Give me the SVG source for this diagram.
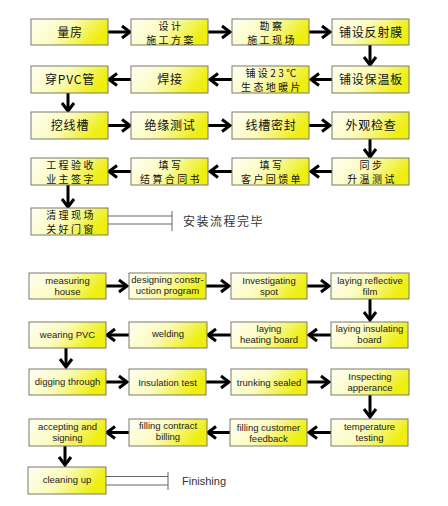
<svg xmlns="http://www.w3.org/2000/svg" width="448" height="506" viewBox="0 0 448 506">
<style>
.bx{fill:url(#g);stroke:#7a7a6a;stroke-width:1}
.zh{font-family:"Noto Sans CJK SC","Noto Sans",sans-serif;font-size:12px;fill:#111;text-anchor:middle;letter-spacing:0.8px}
.z2{font-family:"Noto Sans CJK SC","Noto Sans",sans-serif;font-size:10px;fill:#111;text-anchor:middle;letter-spacing:2.4px}
.en{font-family:"Liberation Sans","DejaVu Sans",sans-serif;font-size:9.5px;fill:#222;text-anchor:middle}
.ar{fill:none;stroke:#000;stroke-width:3;marker-end:url(#ah)}
.dl{fill:none;stroke:#666;stroke-width:1}
.end{font-family:"Noto Sans CJK SC","Noto Sans",sans-serif;font-size:12px;fill:#333;letter-spacing:1.5px}
.endE{font-family:"Liberation Sans","DejaVu Sans",sans-serif;font-size:11px;fill:#333}
</style>
<defs>
<linearGradient id="g" x1="0" y1="0" x2="1" y2="0.3">
<stop offset="0" stop-color="#fffff4"/>
<stop offset="0.5" stop-color="#fbfbbf"/>
<stop offset="1" stop-color="#eeee10"/>
</linearGradient>
<marker id="ah" markerUnits="userSpaceOnUse" markerWidth="14" markerHeight="16" refX="10" refY="8" orient="auto">
<path d="M2,2 L10,8 L2,14" fill="none" stroke="#000" stroke-width="3"/>
</marker>
</defs>
<rect width="448" height="506" fill="#fff"/>

<g id="connectors">
<path class="ar" d="M108,32 H130"/>
<path class="ar" d="M208,32 H230"/>
<path class="ar" d="M309,32 H330"/>
<path class="ar" d="M370,45 V65"/>
<path class="ar" d="M332,79.5 H311"/>
<path class="ar" d="M232,79.5 H210"/>
<path class="ar" d="M131,79.5 H109"/>
<path class="ar" d="M68,93 V111"/>
<path class="ar" d="M108,125.5 H130"/>
<path class="ar" d="M208,125.5 H230"/>
<path class="ar" d="M309,125.5 H330"/>
<path class="ar" d="M370,139 V157"/>
<path class="ar" d="M332,171.5 H311"/>
<path class="ar" d="M232,171.5 H210"/>
<path class="ar" d="M131,171.5 H109"/>
<path class="ar" d="M68,185 V207"/>
<path class="dl" d="M108,216 H172 M108,224 H172 M172,211 V231"/>
<path class="ar" d="M106,286 H127"/>
<path class="ar" d="M206,286 H229"/>
<path class="ar" d="M307,286 H329"/>
<path class="ar" d="M370,299 V320"/>
<path class="ar" d="M331,335 H309"/>
<path class="ar" d="M231,335 H208"/>
<path class="ar" d="M129,335 H107"/>
<path class="ar" d="M66,348 V367"/>
<path class="ar" d="M106,382 H127"/>
<path class="ar" d="M206,382 H229"/>
<path class="ar" d="M307,382 H329"/>
<path class="ar" d="M370,395 V417"/>
<path class="ar" d="M331,432.5 H309"/>
<path class="ar" d="M231,432.5 H208"/>
<path class="ar" d="M129,432.5 H107"/>
<path class="ar" d="M65,446 V465"/>
<path class="dl" d="M106,476.5 H168 M106,485 H168 M168,472 V490"/>
</g>

<g id="n-liangfang"><rect class="bx" x="31" y="19" width="77" height="26"/><text class="zh" x="70" y="36.5">量房</text></g>
<g id="n-sheji"><rect class="bx" x="131" y="19" width="77" height="26"/><text class="z2" x="171" y="29.5">设计<tspan x="171" dy="14.5">施工方案</tspan></text></g>
<g id="n-kancha"><rect class="bx" x="232" y="19" width="77" height="26"/><text class="z2" x="272" y="29.5">勘察<tspan x="272" dy="14.5">施工现场</tspan></text></g>
<g id="n-fanshemo"><rect class="bx" x="332" y="19" width="77" height="26"/><text class="zh" x="371" y="36.5">铺设反射膜</text></g>
<g id="n-pvc"><rect class="bx" x="31" y="66" width="77" height="27"/><text class="zh" x="70" y="84">穿PVC管</text></g>
<g id="n-hanjie"><rect class="bx" x="131" y="66" width="77" height="27"/><text class="zh" x="170" y="84">焊接</text></g>
<g id="n-nuanpian"><rect class="bx" x="232" y="66" width="77" height="27"/><text class="z2" x="272" y="76.5">铺设23℃<tspan x="272" dy="14.5">生态地暖片</tspan></text></g>
<g id="n-baowenban"><rect class="bx" x="332" y="66" width="77" height="27"/><text class="zh" x="371" y="84">铺设保温板</text></g>
<g id="n-waxiancao"><rect class="bx" x="31" y="112" width="77" height="27"/><text class="zh" x="70" y="130">挖线槽</text></g>
<g id="n-jueyuan"><rect class="bx" x="131" y="112" width="77" height="27"/><text class="zh" x="170" y="130">绝缘测试</text></g>
<g id="n-mifeng"><rect class="bx" x="232" y="112" width="77" height="27"/><text class="zh" x="271" y="130">线槽密封</text></g>
<g id="n-waiguan"><rect class="bx" x="332" y="112" width="77" height="27"/><text class="zh" x="371" y="130">外观检查</text></g>
<g id="n-yanshou"><rect class="bx" x="31" y="158" width="77" height="27"/><text class="z2" x="71" y="168.5">工程验收<tspan x="71" dy="14.5">业主签字</tspan></text></g>
<g id="n-jiesuan"><rect class="bx" x="131" y="158" width="77" height="27"/><text class="z2" x="171" y="168.5">填写<tspan x="171" dy="14.5">结算合同书</tspan></text></g>
<g id="n-huikui"><rect class="bx" x="232" y="158" width="77" height="27"/><text class="z2" x="272" y="168.5">填写<tspan x="272" dy="14.5">客户回馈单</tspan></text></g>
<g id="n-shengwen"><rect class="bx" x="332" y="158" width="77" height="27"/><text class="z2" x="372" y="168.5">同步<tspan x="372" dy="14.5">升温测试</tspan></text></g>
<g id="n-qingli"><rect class="bx" x="31" y="208" width="77" height="27"/><text class="z2" x="71" y="218.5">清理现场<tspan x="71" dy="14.5">关好门窗</tspan></text></g>
<g id="n-wanbi"><text class="end" x="183" y="225.5">安装流程完毕</text></g>

<g id="e-measuring"><rect class="bx" x="29" y="273" width="77" height="26"/><text class="en" x="67.5" y="283.5">measuring<tspan x="67.5" dy="11">house</tspan></text></g>
<g id="e-designing"><rect class="bx" x="129" y="273" width="77" height="26"/><text class="en" x="167.5" y="283">designing constr-<tspan x="167.5" dy="10.5">uction program</tspan></text></g>
<g id="e-investigating"><rect class="bx" x="231" y="273" width="76" height="26"/><text class="en" x="269" y="283.5">Investigating<tspan x="269" dy="11">spot</tspan></text></g>
<g id="e-reflective"><rect class="bx" x="331" y="273" width="78" height="26"/><text class="en" x="370" y="283.5">laying reflective<tspan x="370" dy="11">film</tspan></text></g>
<g id="e-pvc"><rect class="bx" x="29" y="322" width="77" height="26"/><text class="en" x="67.5" y="338">wearing PVC</text></g>
<g id="e-welding"><rect class="bx" x="129" y="322" width="78" height="26"/><text class="en" x="168" y="337">welding</text></g>
<g id="e-heating"><rect class="bx" x="231" y="322" width="76" height="26"/><text class="en" x="269" y="332">laying<tspan x="269" dy="11">heating board</tspan></text></g>
<g id="e-insulating"><rect class="bx" x="331" y="322" width="77" height="26"/><text class="en" x="369.5" y="332">laying insulating<tspan x="369.5" dy="11">board</tspan></text></g>
<g id="e-digging"><rect class="bx" x="29" y="369" width="77" height="26"/><text class="en" x="67.5" y="385">digging through</text></g>
<g id="e-insulation"><rect class="bx" x="129" y="369" width="77" height="26"/><text class="en" x="167.5" y="385.5">Insulation test</text></g>
<g id="e-trunking"><rect class="bx" x="231" y="369" width="76" height="26"/><text class="en" x="269" y="385.5">trunking sealed</text></g>
<g id="e-inspecting"><rect class="bx" x="331" y="369" width="78" height="26"/><text class="en" x="370" y="379.5">Inspecting<tspan x="370" dy="11">apperance</tspan></text></g>
<g id="e-accepting"><rect class="bx" x="29" y="419" width="77" height="27"/><text class="en" x="67.5" y="430">accepting and<tspan x="67.5" dy="11">signing</tspan></text></g>
<g id="e-contract"><rect class="bx" x="129" y="419" width="78" height="27"/><text class="en" x="168" y="429">filling contract<tspan x="168" dy="11">billing</tspan></text></g>
<g id="e-feedback"><rect class="bx" x="230" y="419" width="77" height="27"/><text class="en" x="268.5" y="431">filling customer<tspan x="268.5" dy="11">feedback</tspan></text></g>
<g id="e-temperature"><rect class="bx" x="331" y="419" width="77" height="27"/><text class="en" x="369.5" y="429.5">temperature<tspan x="369.5" dy="11">testing</tspan></text></g>
<g id="e-cleaning"><rect class="bx" x="28" y="467" width="78" height="27"/><text class="en" x="67" y="483">cleaning up</text></g>
<g id="e-finishing"><text class="endE" x="182" y="485">Finishing</text></g>
</svg>
